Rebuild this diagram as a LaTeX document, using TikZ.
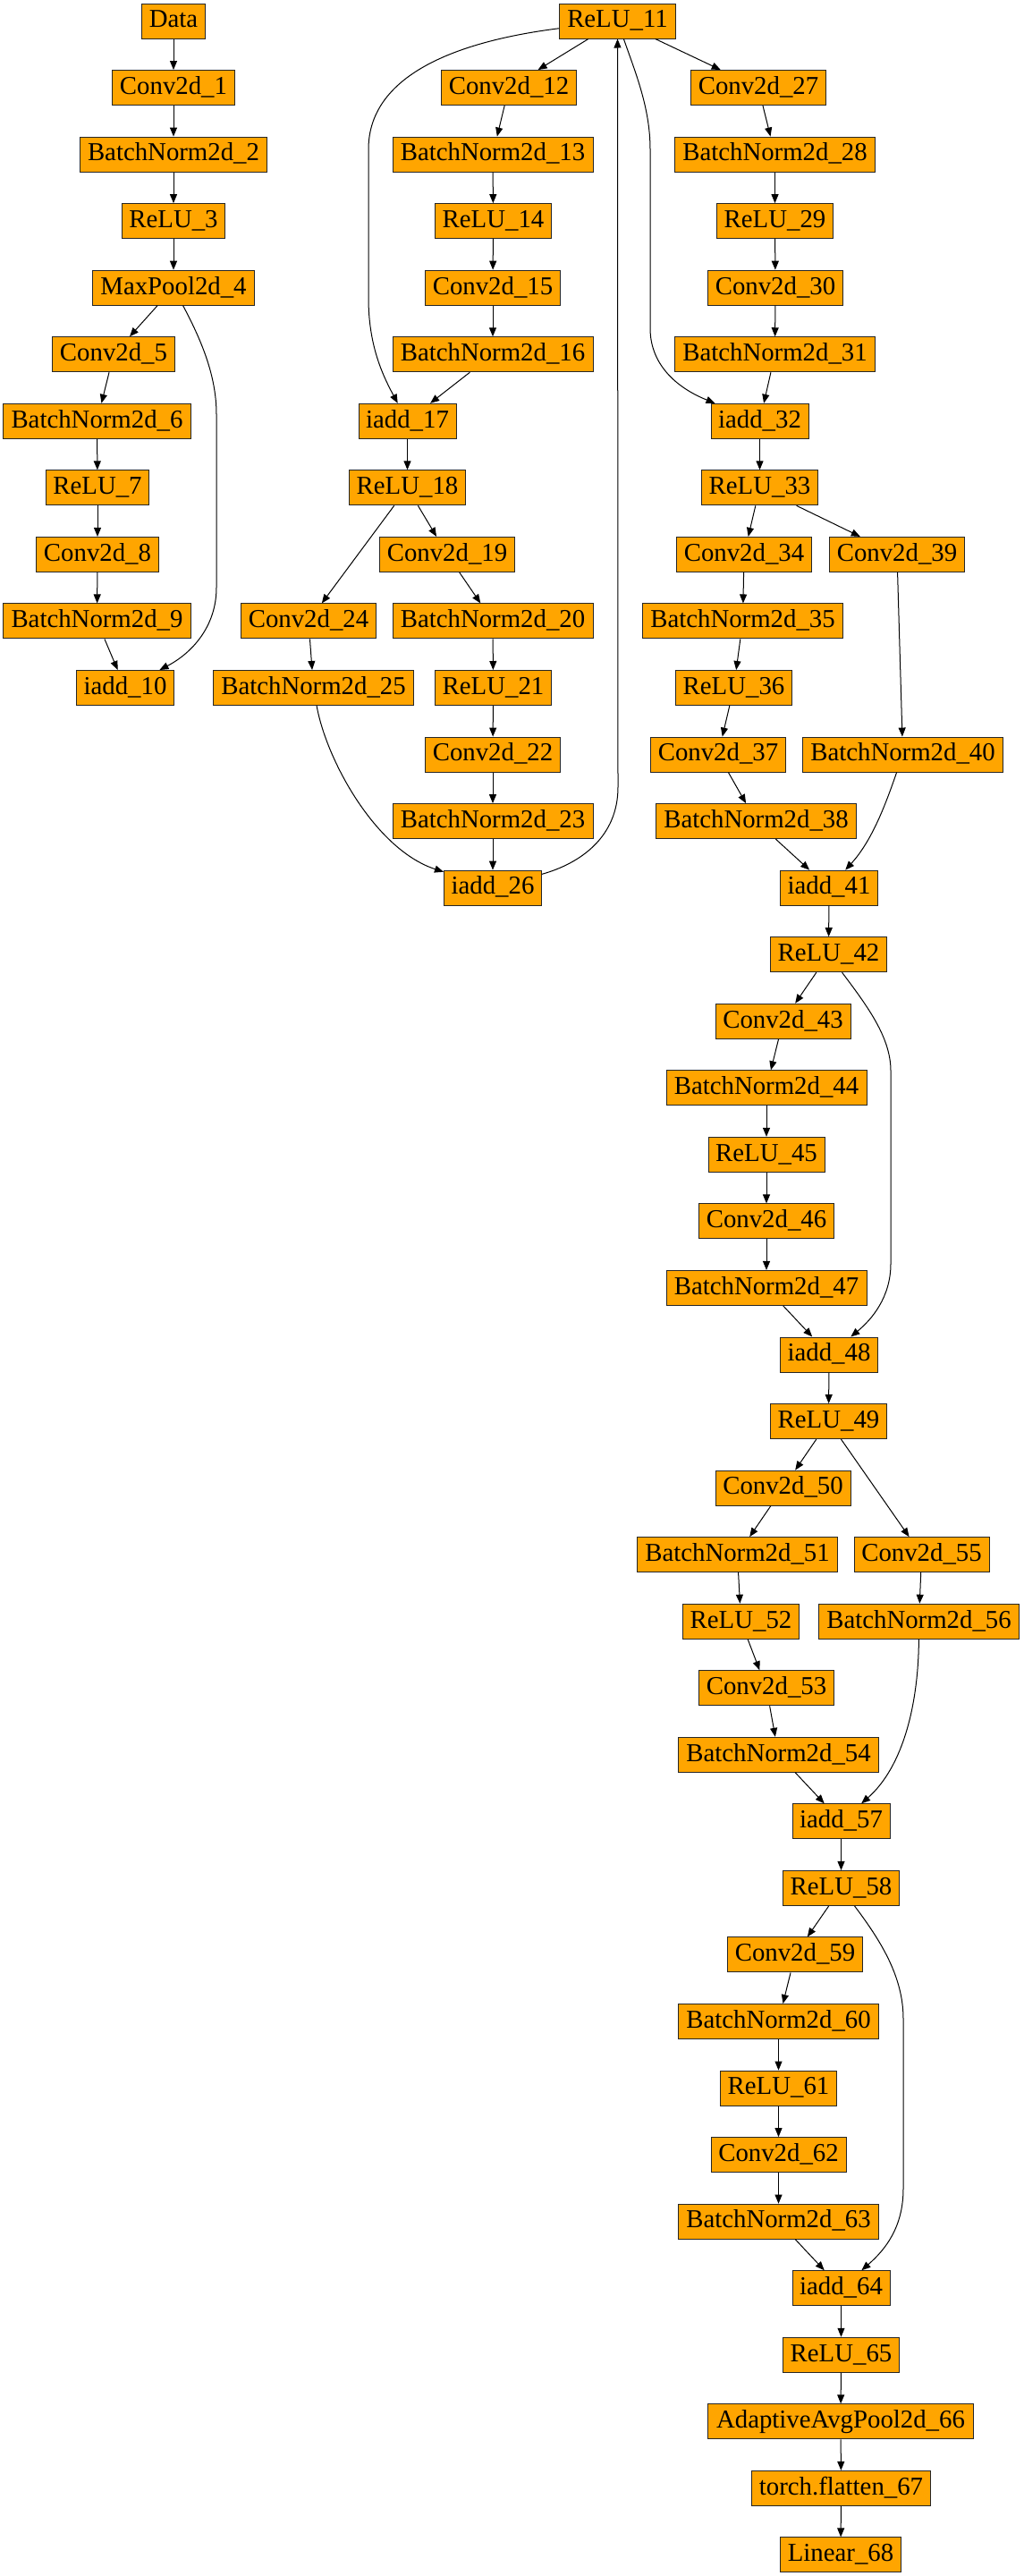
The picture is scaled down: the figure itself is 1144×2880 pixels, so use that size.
\documentclass[tikz,border=0pt]{standalone}
\usepackage{fontspec}
\setmainfont{Liberation Serif}
\usetikzlibrary{arrows.meta}
\definecolor{boxorange}{HTML}{FFA500}
\tikzset{
  blk/.style={draw=black!85, line width=1pt, fill=boxorange, rectangle,
    minimum height=39pt, inner xsep=1pt, inner ysep=0pt,
    text height=21pt, text depth=6.4pt,
    font=\fontsize{28.8}{34}\selectfont},
  conn/.style={draw=black, line width=1pt, -{Triangle[length=10pt,width=8pt]}}
}
\newcommand{\gnode}[5]{\node[blk, minimum width=#4pt] (#1) at (#2, {23.5+74.55*#3}) {#5};}
\begin{document}
\begin{tikzpicture}[x=1pt,y=-1pt]
\useasboundingbox (0,0) rectangle (1144,2880);
% left column
\gnode{d0}{194}{0}{71}{Data}
\gnode{n1}{194}{1}{137}{Conv2d\_1}
\gnode{n2}{194}{2}{209}{BatchNorm2d\_2}
\gnode{n3}{194}{3}{115}{ReLU\_3}
\gnode{n4}{194}{4}{181}{MaxPool2d\_4}
\gnode{n5}{127}{5}{137}{Conv2d\_5}
\gnode{n6}{108.5}{6}{210}{BatchNorm2d\_6}
\gnode{n7}{109}{7}{115}{ReLU\_7}
\gnode{n8}{109}{8}{137}{Conv2d\_8}
\gnode{n9}{108.5}{9}{210}{BatchNorm2d\_9}
\gnode{n10}{140}{10}{109}{iadd\_10}
% middle column
\gnode{n11}{690.5}{0}{130}{ReLU\_11}
\gnode{n12}{569}{1}{151}{Conv2d\_12}
\gnode{n13}{551}{2}{224}{BatchNorm2d\_13}
\gnode{n14}{551.5}{3}{130}{ReLU\_14}
\gnode{n15}{551}{4}{151}{Conv2d\_15}
\gnode{n16}{551}{5}{224}{BatchNorm2d\_16}
\gnode{n17}{455.5}{6}{109}{iadd\_17}
\gnode{n18}{455.5}{7}{130}{ReLU\_18}
\gnode{n19}{500}{8}{151}{Conv2d\_19}
\gnode{n20}{551}{9}{224}{BatchNorm2d\_20}
\gnode{n21}{551.5}{10}{130}{ReLU\_21}
\gnode{n22}{551}{11}{151}{Conv2d\_22}
\gnode{n23}{551}{12}{224}{BatchNorm2d\_23}
\gnode{n26}{551}{13}{109}{iadd\_26}
\gnode{n24}{345}{9}{151}{Conv2d\_24}
\gnode{n25}{350.5}{10}{224}{BatchNorm2d\_25}
% right column
\gnode{n27}{848}{1}{151}{Conv2d\_27}
\gnode{n28}{866.5}{2}{224}{BatchNorm2d\_28}
\gnode{n29}{866.5}{3}{130}{ReLU\_29}
\gnode{n30}{867}{4}{151}{Conv2d\_30}
\gnode{n31}{866.5}{5}{224}{BatchNorm2d\_31}
\gnode{n32}{849.5}{6}{109}{iadd\_32}
\gnode{n33}{849.5}{7}{130}{ReLU\_33}
\gnode{n34}{832}{8}{151}{Conv2d\_34}
\gnode{n39}{1003}{8}{151}{Conv2d\_39}
\gnode{n35}{830.5}{9}{224}{BatchNorm2d\_35}
\gnode{n36}{820.5}{10}{130}{ReLU\_36}
\gnode{n37}{803}{11}{151}{Conv2d\_37}
\gnode{n40}{1009.5}{11}{224}{BatchNorm2d\_40}
\gnode{n38}{845.5}{12}{224}{BatchNorm2d\_38}
\gnode{n41}{927}{13}{109}{iadd\_41}
\gnode{n42}{926.5}{14}{130}{ReLU\_42}
\gnode{n43}{875.5}{15}{151}{Conv2d\_43}
\gnode{n44}{857}{16}{224}{BatchNorm2d\_44}
\gnode{n45}{857}{17}{130}{ReLU\_45}
\gnode{n46}{857}{18}{151}{Conv2d\_46}
\gnode{n47}{857}{19}{224}{BatchNorm2d\_47}
\gnode{n48}{927}{20}{109}{iadd\_48}
\gnode{n49}{926.5}{21}{130}{ReLU\_49}
\gnode{n50}{875.5}{22}{151}{Conv2d\_50}
\gnode{n51}{824.5}{23}{224}{BatchNorm2d\_51}
\gnode{n55}{1030.5}{23}{151}{Conv2d\_55}
\gnode{n52}{828.5}{24}{130}{ReLU\_52}
\gnode{n56}{1027.5}{24}{224}{BatchNorm2d\_56}
\gnode{n53}{857}{25}{151}{Conv2d\_53}
\gnode{n54}{870.5}{26}{224}{BatchNorm2d\_54}
\gnode{n57}{940.5}{27}{109}{iadd\_57}
\gnode{n58}{940.5}{28}{130}{ReLU\_58}
\gnode{n59}{889}{29}{151}{Conv2d\_59}
\gnode{n60}{870.5}{30}{224}{BatchNorm2d\_60}
\gnode{n61}{870.5}{31}{130}{ReLU\_61}
\gnode{n62}{870.5}{32}{151}{Conv2d\_62}
\gnode{n63}{870.5}{33}{224}{BatchNorm2d\_63}
\gnode{n64}{940.5}{34}{109}{iadd\_64}
\gnode{n65}{940.5}{35}{130}{ReLU\_65}
\gnode{n66}{940}{36}{297}{AdaptiveAvgPool2d\_66}
\gnode{n67}{940.5}{37}{200}{torch.flatten\_67}
\gnode{n68}{940}{38}{135}{Linear\_68}
% straight connectors
\foreach \a/\b in {d0/n1,n1/n2,n2/n3,n3/n4,n4/n5,n5/n6,n6/n7,n7/n8,n8/n9,n9/n10,
  n11/n12,n12/n13,n13/n14,n14/n15,n15/n16,n16/n17,n17/n18,n18/n19,n18/n24,n19/n20,
  n20/n21,n21/n22,n22/n23,n23/n26,n24/n25,
  n11/n27,n27/n28,n28/n29,n29/n30,n30/n31,n31/n32,n32/n33,n33/n34,n33/n39,n34/n35,
  n35/n36,n36/n37,n37/n38,n38/n41,n39/n40,n41/n42,n42/n43,n43/n44,n44/n45,n45/n46,
  n46/n47,n47/n48,n48/n49,n49/n50,n49/n55,n50/n51,n51/n52,n52/n53,n53/n54,n54/n57,
  n55/n56,n57/n58,n58/n59,n59/n60,n60/n61,n61/n62,n62/n63,n63/n64,n64/n65,n65/n66,
  n66/n67,n67/n68}
  \draw[conn] (\a) -- (\b);
% curved connectors
\draw[conn] (n4) .. controls (225,380) and (242,420) .. (242,463) -- (242,657)
  .. controls (242,700) and (215,730) .. (n10);
\draw[conn] (n11) .. controls (520,45) and (412,80) .. (412,167) -- (412,333)
  .. controls (412,385) and (427,418) .. (n17);
\draw[conn] (n11) .. controls (710,80) and (727,120) .. (727,167) -- (727,367)
  .. controls (727,410) and (760,435) .. (n32);
\draw[conn] (n26) .. controls (650,965) and (691,935) .. (691,880) -- (n11);
\draw[conn] (n25) .. controls (365,850) and (420,950) .. (n26);
\draw[conn] (n40) .. controls (990,900) and (975,940) .. (n41);
\draw[conn] (n42) .. controls (970,1125) and (996,1160) .. (996,1197) -- (996,1413)
  .. controls (996,1450) and (975,1475) .. (n48);
\draw[conn] (n56) .. controls (1027,1905) and (1010,1975) .. (n57);
\draw[conn] (n58) .. controls (985,2170) and (1010,2210) .. (1010,2257) -- (1010,2447)
  .. controls (1010,2490) and (990,2515) .. (n64);
\end{tikzpicture}
\end{document}
